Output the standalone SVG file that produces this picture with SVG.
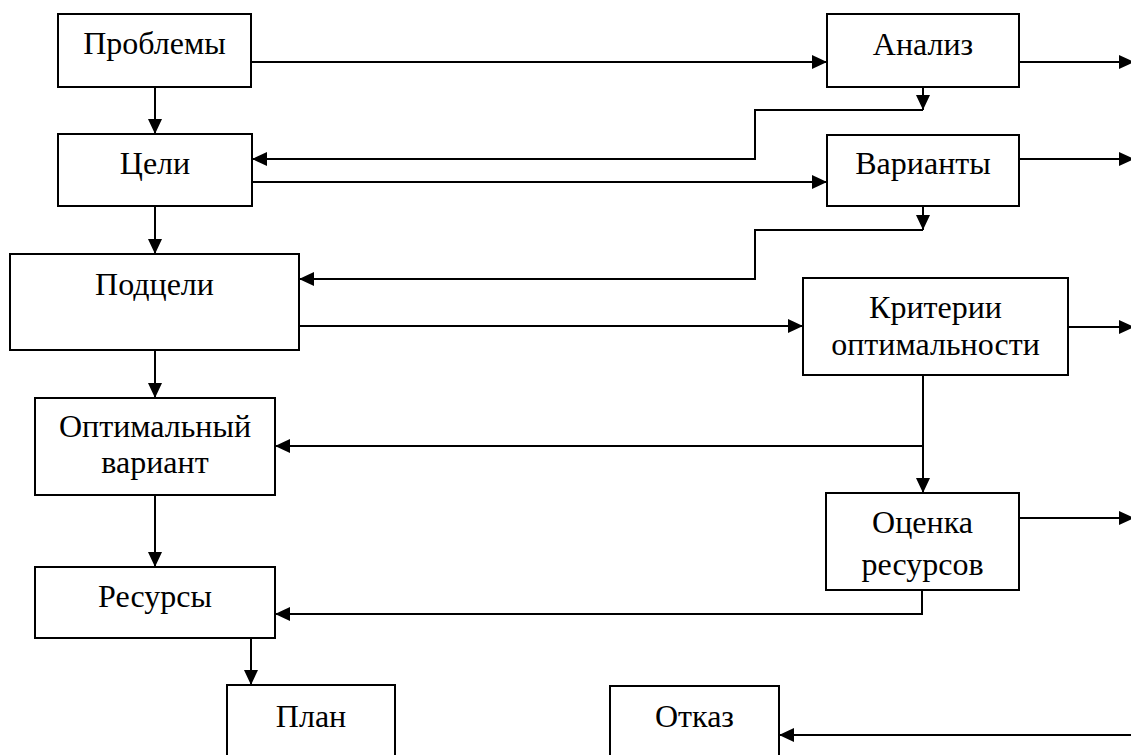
<svg xmlns="http://www.w3.org/2000/svg" width="1131" height="755" viewBox="0 0 1131 755">
<style>
.box{fill:#fff;stroke:#000;stroke-width:2}
.t{font-family:"Liberation Serif","Times New Roman",serif;font-size:32px;fill:#000;text-anchor:middle}
.c{fill:none;stroke:#000;stroke-width:2}
.a{marker-end:url(#ah)}
</style>
<defs>
<marker id="ah" markerUnits="userSpaceOnUse" markerWidth="15" markerHeight="14" refX="15" refY="7" orient="auto">
<path d="M0,0 L15,7 L0,14 z" fill="#000"/>
</marker>
</defs>
<rect width="1131" height="755" fill="#fff"/>
<g id="connectors">
<path class="c a" d="M251,62 H827"/>
<path class="c a" d="M155,87 V134"/>
<path class="c a" d="M1019,62 H1134"/>
<path class="c a" d="M923,87 V110"/>
<path class="c a" d="M923,110 H755 V159 H252"/>
<path class="c a" d="M252,182 H827"/>
<path class="c a" d="M1019,159 H1134"/>
<path class="c a" d="M923,206 V230"/>
<path class="c a" d="M923,230 H755 V279 H299"/>
<path class="c a" d="M155,206 V254"/>
<path class="c a" d="M299,326 H803"/>
<path class="c a" d="M1068,327 H1134"/>
<path class="c a" d="M923,375 V493"/>
<path class="c a" d="M923,446 H275"/>
<path class="c a" d="M155,350 V398"/>
<path class="c a" d="M155,495 V567"/>
<path class="c a" d="M1019,518 H1134"/>
<path class="c a" d="M922,590 V614 H275"/>
<path class="c a" d="M251,638 V685"/>
<path class="c a" d="M1134,735 H779"/>
</g>
<g id="n-problemy"><rect class="box" x="58" y="14" width="193" height="73"/><text class="t" x="154.5" y="54">Проблемы</text></g>
<g id="n-celi"><rect class="box" x="58" y="134" width="194" height="72"/><text class="t" x="155" y="174">Цели</text></g>
<g id="n-podceli"><rect class="box" x="10" y="254" width="289" height="96"/><text class="t" x="154.5" y="295">Подцели</text></g>
<g id="n-optimalny"><rect class="box" x="35" y="398" width="240" height="97"/><text class="t" x="155" y="437">Оптимальный</text><text class="t" x="155" y="473">вариант</text></g>
<g id="n-resursy"><rect class="box" x="35" y="567" width="240" height="71"/><text class="t" x="155" y="607">Ресурсы</text></g>
<g id="n-plan"><rect class="box" x="227" y="685" width="168" height="80"/><text class="t" x="311" y="727">План</text></g>
<g id="n-analiz"><rect class="box" x="827" y="14" width="192" height="73"/><text class="t" x="923" y="55">Анализ</text></g>
<g id="n-varianty"><rect class="box" x="827" y="135" width="192" height="71"/><text class="t" x="923" y="174">Варианты</text></g>
<g id="n-kriterii"><rect class="box" x="803" y="278" width="265" height="97"/><text class="t" x="935.5" y="318">Критерии</text><text class="t" x="935.5" y="355">оптимальности</text></g>
<g id="n-ocenka"><rect class="box" x="826" y="493" width="193" height="97"/><text class="t" x="922.5" y="533">Оценка</text><text class="t" x="922.5" y="575">ресурсов</text></g>
<g id="n-otkaz"><rect class="box" x="610" y="686" width="169" height="80"/><text class="t" x="694.5" y="727">Отказ</text></g>
</svg>
